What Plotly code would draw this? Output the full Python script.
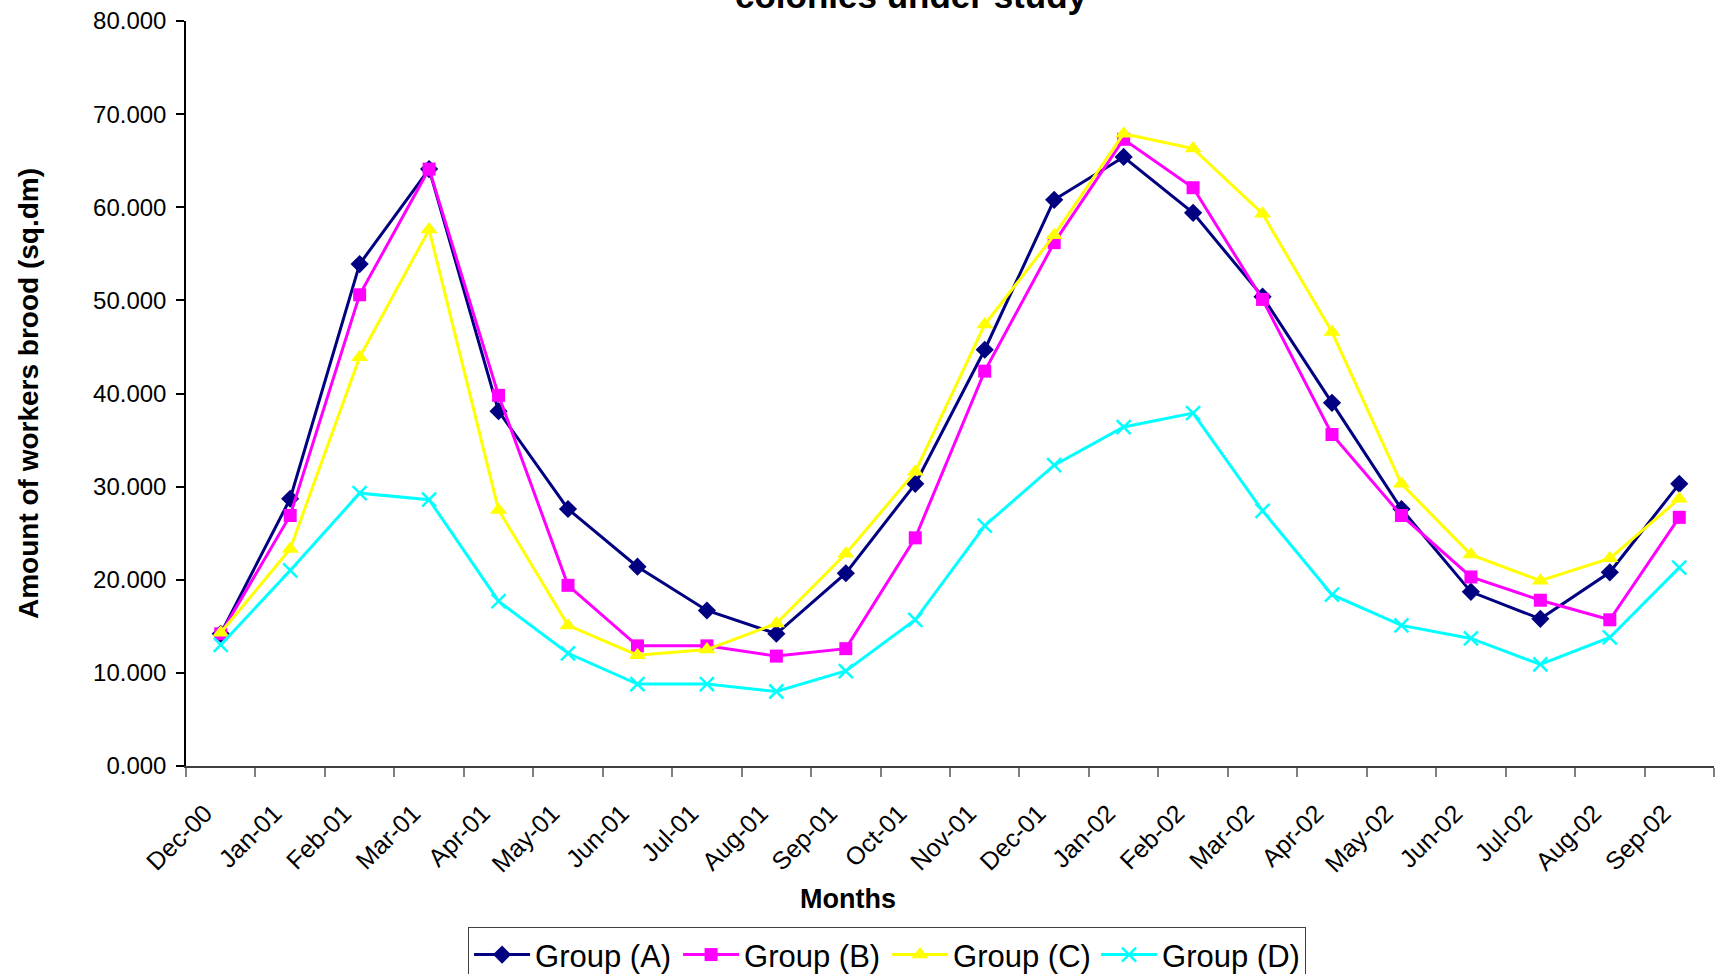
import numpy as np
import plotly.graph_objects as go

months = ["Dec-00", "Jan-01", "Feb-01", "Mar-01", "Apr-01", "May-01", "Jun-01",
          "Jul-01", "Aug-01", "Sep-01", "Oct-01", "Nov-01", "Dec-01", "Jan-02",
          "Feb-02", "Mar-02", "Apr-02", "May-02", "Jun-02", "Jul-02", "Aug-02",
          "Sep-02"]

group_a = [14.2, 28.7, 53.9, 64.1, 38.1, 27.6, 21.4, 16.7, 14.2, 20.7, 30.3,
           44.7, 60.8, 65.4, 59.4, 50.4, 39.0, 27.6, 18.7, 15.8, 20.8, 30.3]
group_b = [14.2, 26.9, 50.6, 64.1, 39.8, 19.4, 12.9, 12.9, 11.8, 12.6, 24.5,
           42.4, 56.2, 67.3, 62.1, 50.1, 35.6, 26.9, 20.3, 17.8, 15.7, 26.7]
group_c = [14.3, 23.3, 43.9, 57.6, 27.5, 15.1, 11.9, 12.5, 15.3, 22.8, 31.6,
           47.4, 57.0, 67.9, 66.3, 59.3, 46.6, 30.3, 22.7, 19.9, 22.3, 28.7]
group_d = [13.0, 21.0, 29.3, 28.6, 17.7, 12.1, 8.8, 8.8, 8.0, 10.2, 15.7,
           25.8, 32.3, 36.4, 37.9, 27.4, 18.4, 15.1, 13.7, 10.9, 13.8, 21.3]

# points sit mid-month, tick marks at month boundaries
x_pos = np.arange(len(months)) + 0.5
tick_pos = list(range(len(months) + 1))
tick_text = months + [""]

series = [
    ("Group (A)", group_a, "#000080", "diamond", 14),
    ("Group (B)", group_b, "#FF00FF", "square", 13),
    ("Group (C)", group_c, "#FFFF00", "triangle-up", 15),
    ("Group (D)", group_d, "#00FFFF", "x-thin", 14),
]

FONT = "Liberation Sans, Arial, sans-serif"

fig = go.Figure()
for name, vals, color, symbol, size in series:
    marker = dict(symbol=symbol, size=size, color=color,
                  line=dict(color=color, width=2.5 if symbol == "x-thin" else 0))
    fig.add_trace(go.Scatter(x=x_pos, y=vals, name=name, mode="lines+markers",
                             line=dict(color=color, width=3), marker=marker))

fig.update_layout(
    width=1716, height=974,
    margin=dict(l=186, r=2, t=21, b=208, autoexpand=False),
    paper_bgcolor="white", plot_bgcolor="white",
    font=dict(family=FONT, color="black"),
    showlegend=True,
    legend=dict(
        orientation="h", x=0.1846, xanchor="left", y=-0.216, yanchor="top",
        font=dict(family=FONT, size=31, color="black"),
        bordercolor="#404040", borderwidth=1, bgcolor="white",
        itemwidth=56, entrywidth=138, entrywidthmode="pixels",
    ),
    xaxis=dict(
        range=[0, len(months)], tickvals=tick_pos, ticktext=tick_text,
        tickangle=-45, ticklabelshift=19, ticklabelstandoff=12,
        tickfont=dict(family=FONT, size=25, color="black"),
        ticks="outside", ticklen=9, tickwidth=1.5,
        tickcolor="#808080", showline=True, linecolor="#404040", linewidth=1.5,
        showgrid=False, zeroline=False,
    ),
    yaxis=dict(
        range=[0, 80], dtick=10, tickformat=".3f",
        ticks="outside", ticklen=8, tickwidth=1.5, tickcolor="black",
        ticklabelstandoff=5,
        showline=True, linecolor="black", linewidth=1.5,
        showgrid=False, zeroline=False,
        tickfont=dict(family=FONT, size=24, color="black"),
        title=dict(text="<b>Amount of workers brood (sq.dm)</b>",
                   font=dict(family=FONT, size=28, color="black"), standoff=46),
    ),
)

fig.add_annotation(text="<b>Months</b>", xref="paper", yref="paper",
                   x=0.4332, y=-0.1785, xanchor="center", yanchor="middle",
                   showarrow=False, font=dict(family=FONT, size=27, color="black"))

fig.add_annotation(text="<b>colonies under study</b>", xref="paper", yref="paper",
                   x=0.4745, y=1.006, xanchor="center", yanchor="bottom",
                   showarrow=False, font=dict(family=FONT, size=35, color="black"))

fig.write_html("out.html")
